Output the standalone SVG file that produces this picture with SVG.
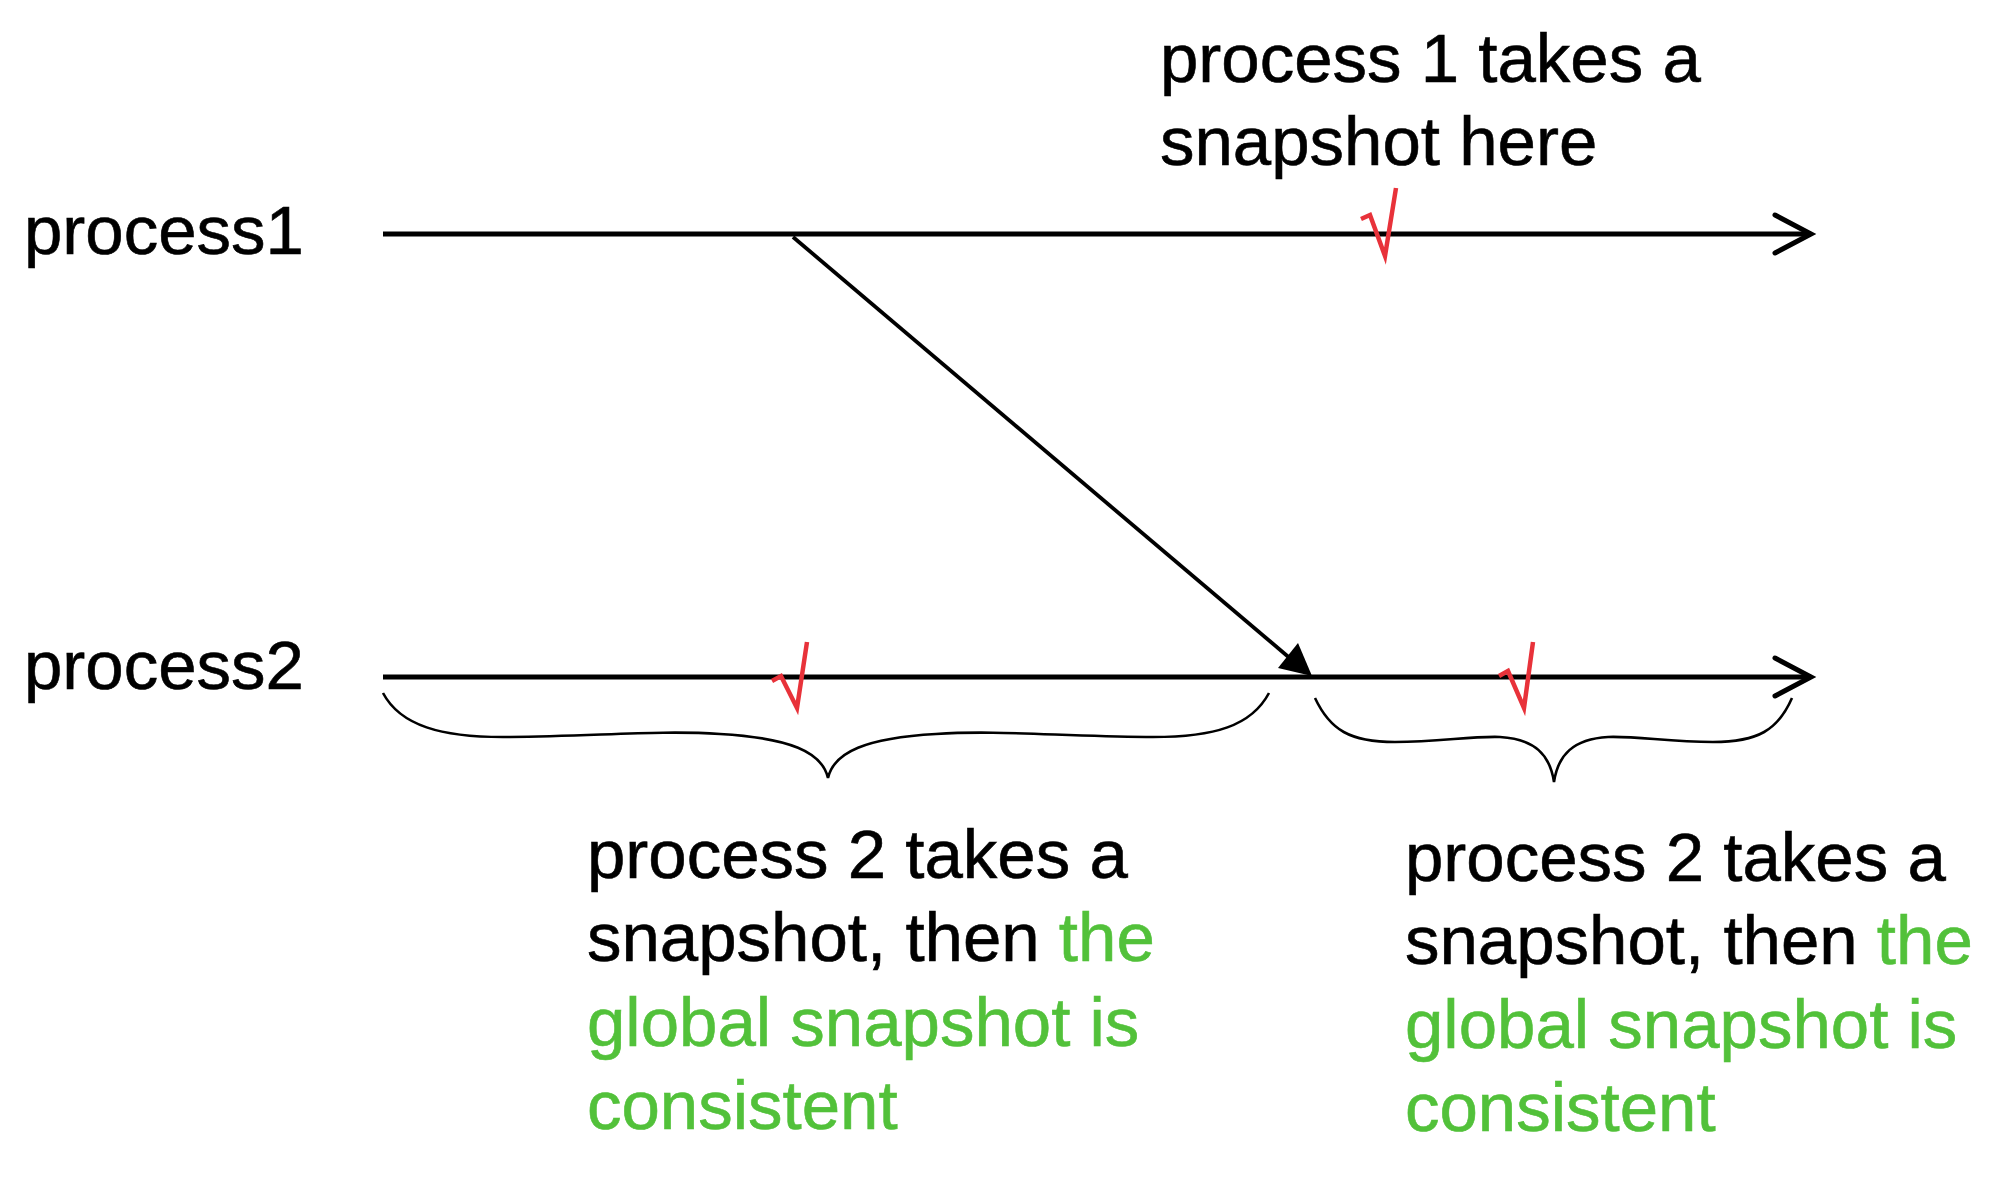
<svg xmlns="http://www.w3.org/2000/svg" width="2000" height="1181" viewBox="0 0 2000 1181">
<style>
.t{font-family:"Liberation Sans",Arial,Helvetica,sans-serif;font-size:69px;fill:#000;stroke:#000;stroke-width:0.6}
.g{fill:#52C13A;stroke:#52C13A}
.ln{stroke:#000;stroke-width:5;fill:none}
.head{stroke:#000;stroke-width:5;fill:none;stroke-linecap:round;stroke-linejoin:miter}
.brace{stroke:#000;stroke-width:2.6;fill:none}
.chk{stroke:#E8323A;stroke-width:4.5;fill:none;stroke-linejoin:miter}
</style>
<rect width="2000" height="1181" fill="#fff"/>
<g id="process1">
<text class="t" x="24" y="254">process1</text>
<line class="ln" x1="383" y1="234" x2="1810" y2="234"/>
<polyline class="head" points="1775,215 1811,234 1775,253"/>
</g>
<g id="process2">
<text class="t" x="24" y="689">process2</text>
<line class="ln" x1="383" y1="677" x2="1810" y2="677"/>
<polyline class="head" points="1775,658 1811,677 1775,696"/>
</g>
<g id="connectors">
<line x1="793" y1="237" x2="1292" y2="660" stroke="#000" stroke-width="3.8"/>
<polygon points="1312,676 1278,668 1298,643" fill="#000"/>
</g>
<g id="check1">
<polyline class="chk" points="1361,219 1370,215 1385,256 1396,188"/>
</g>
<g id="check2">
<polyline class="chk" points="772,681 781,676 797,708 807,642"/>
</g>
<g id="check3">
<polyline class="chk" points="1499,676 1508,671 1524,708 1533,642"/>
</g>
<g id="brace1">
<path class="brace" d="M383,693 C400,725 440,738 510,737 C600,736 660,730 720,734 C790,738 822,752 828,778 C834,752 866,738 936,734 C996,730 1056,736 1146,737 C1216,738 1252,725 1269,693"/>
</g>
<g id="brace2">
<path class="brace" d="M1315,698 C1330,730 1350,742 1395,742 C1440,742 1470,736 1500,737 C1535,739 1550,755 1554,782 C1558,755 1573,739 1608,737 C1638,736 1668,742 1713,742 C1758,742 1778,730 1792,698"/>
</g>
<g id="label-p1">
<text class="t" x="1160" y="82">process 1 takes a</text>
<text class="t" x="1160" y="165">snapshot here</text>
</g>
<g id="label-p2-left">
<text class="t" x="587" y="878">process 2 takes a</text>
<text class="t" x="587" y="961">snapshot, then <tspan class="g">the</tspan></text>
<text class="t g" x="587" y="1046">global snapshot is</text>
<text class="t g" x="587" y="1129">consistent</text>
</g>
<g id="label-p2-right">
<text class="t" x="1405" y="881">process 2 takes a</text>
<text class="t" x="1405" y="964">snapshot, then <tspan class="g">the</tspan></text>
<text class="t g" x="1405" y="1048">global snapshot is</text>
<text class="t g" x="1405" y="1131">consistent</text>
</g>
</svg>
